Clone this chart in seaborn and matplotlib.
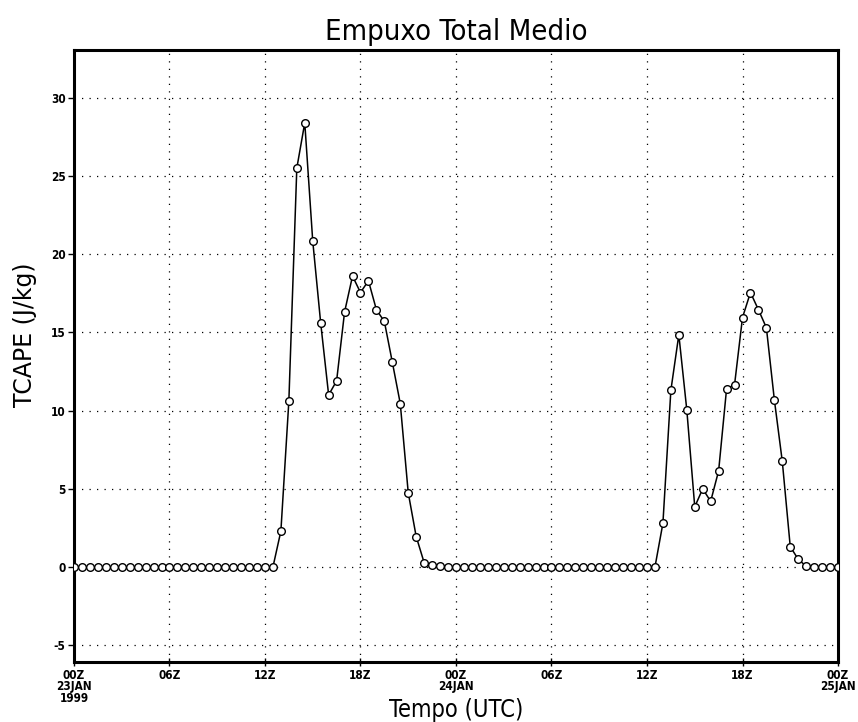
import numpy as np
import pandas as pd
import matplotlib
matplotlib.use("Agg")
import matplotlib.pyplot as plt
import seaborn as sns

# Half-hourly output from 00Z 23JAN1999 to 00Z 25JAN1999 (hours since start)
hours = np.arange(0, 48.5, 0.5)

# Domain-averaged total CAPE (J/kg)
tcape = [
    # 00Z - 12Z 23JAN
    0.0, 0.0, 0.0, 0.0, 0.0, 0.0, 0.0, 0.0, 0.0, 0.0, 0.0, 0.0,
    0.0, 0.0, 0.0, 0.0, 0.0, 0.0, 0.0, 0.0, 0.0, 0.0, 0.0, 0.0,
    # 12Z - 24Z 23JAN
    0.0, 0.0, 2.3, 10.6, 25.5, 28.4, 20.85, 15.6, 11.0, 11.9, 16.3, 18.6,
    17.55, 18.3, 16.45, 15.7, 13.1, 10.45, 4.75, 1.95, 0.28, 0.1, 0.05, 0.0,
    # 00Z - 12Z 24JAN
    0.0, 0.0, 0.0, 0.0, 0.0, 0.0, 0.0, 0.0, 0.0, 0.0, 0.0, 0.0,
    0.0, 0.0, 0.0, 0.0, 0.0, 0.0, 0.0, 0.0, 0.0, 0.0, 0.0, 0.0,
    # 12Z - 24Z 24JAN
    0.0, 0.0, 2.8, 11.3, 14.85, 10.05, 3.85, 5.0, 4.2, 6.15, 11.4, 11.65,
    15.95, 17.55, 16.45, 15.3, 10.7, 6.75, 1.3, 0.5, 0.05, 0.0, 0.0, 0.0,
    # 00Z 25JAN
    0.0,
]

tick_hours = [0, 6, 12, 18, 24, 30, 36, 42, 48]
tick_labels = ["00Z\n23JAN\n1999", "06Z", "12Z", "18Z", "00Z\n24JAN",
               "06Z", "12Z", "18Z", "00Z\n25JAN"]
y_ticks = [-5, 0, 5, 10, 15, 20, 25, 30]

df = pd.DataFrame({"hora": hours, "tcape": tcape})

sns.set_style("ticks")
plt.rcParams["font.family"] = ["DejaVu Sans"]
plt.rcParams["text.color"] = "black"
plt.rcParams["axes.labelcolor"] = "black"
plt.rcParams["xtick.color"] = "black"
plt.rcParams["ytick.color"] = "black"

fig = plt.figure(figsize=(8.58, 7.22), dpi=100)
ax = fig.add_axes([0.0862, 0.0831, 0.8905, 0.8476])

sns.lineplot(data=df, x="hora", y="tcape", ax=ax, color="black", linewidth=1.1,
             marker="o", markersize=5.5, markerfacecolor="white",
             markeredgecolor="black", markeredgewidth=1.0, zorder=3)

ax.set_xlim(0, 48)
ax.set_ylim(-6.07, 33.05)
ax.set_xticks(tick_hours)
ax.set_xticklabels(tick_labels, fontsize=8.5, linespacing=0.85,
                   fontstretch="condensed", fontweight="bold")
ax.set_yticks(y_ticks)
ax.set_yticklabels([str(v) for v in y_ticks], fontsize=8.5,
                   fontstretch="condensed", fontweight="bold")

ax.grid(True, color="black", linestyle=(0, (1, 5)), linewidth=0.9)
for s in ax.spines.values():
    s.set_linewidth(2.2)
    s.set_color("black")
ax.tick_params(axis="y", direction="out", length=4, width=1, pad=2)
ax.tick_params(axis="x", direction="inout", length=6, width=1, pad=2)

ax.set_xlabel("Tempo (UTC)", fontsize=17, labelpad=-5, fontstretch="condensed")
ax.set_ylabel("TCAPE (J/kg)", fontsize=17)
ax.yaxis.set_label_coords(-0.048, 0.534)
ax.set_title("Empuxo Total Medio", fontsize=21, pad=7, fontstretch="condensed")

fig.savefig("out.png", dpi=100)
